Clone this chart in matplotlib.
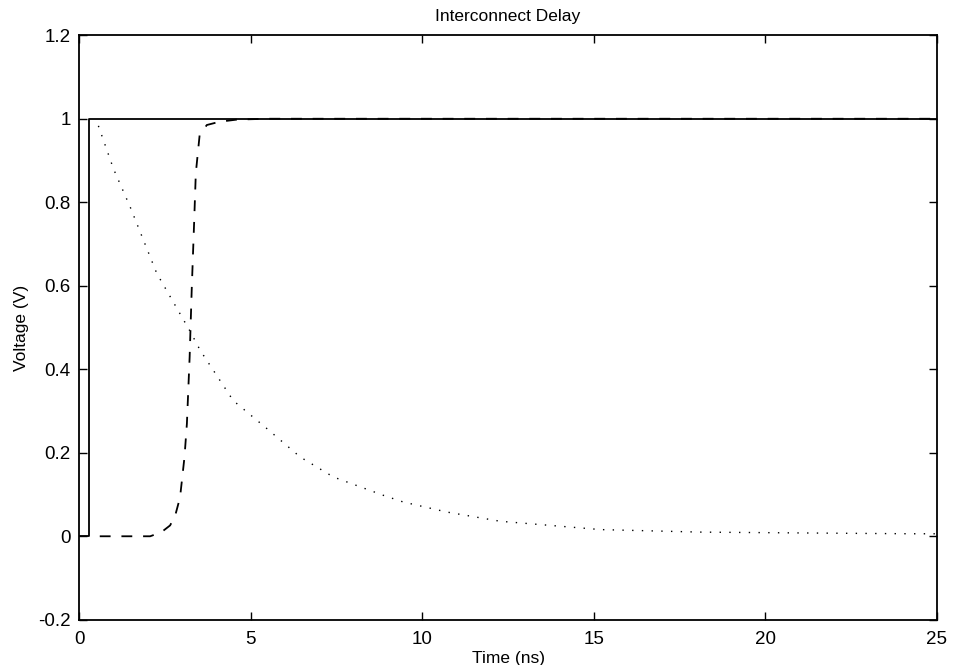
import matplotlib
matplotlib.use("Agg")
import matplotlib.pyplot as plt

plt.rcParams['font.family'] = ['Liberation Sans', 'DejaVu Sans']

# input step (solid)
t_step = [0.0, 0.3, 0.3, 25.0]
v_step = [0.0, 0.0, 1.0, 1.0]

# far end response (dashed)
t_far = [0.6, 1.5, 2.07, 2.4, 2.65, 2.8, 2.94, 3.07, 3.14, 3.22, 3.28,
         3.35, 3.40, 3.51, 3.72, 4.1, 4.6, 5.5, 25.0]
v_far = [0.0, 0.0, 0.0, 0.01, 0.026, 0.05, 0.093, 0.19, 0.27, 0.43, 0.59,
         0.75, 0.87, 0.96, 0.985, 0.993, 0.998, 1.0, 1.0]

# near end (dotted)
t_near = [0.56, 1.0, 1.49, 2.26, 3.24, 3.53, 4.49, 5.47, 6.44, 7.41, 8.87,
          9.45, 10.72, 12.27, 15.2, 18.1, 21.0, 24.2, 25.0]
v_near = [0.983, 0.88, 0.788, 0.63, 0.49, 0.445, 0.325, 0.258, 0.19, 0.142,
          0.098, 0.082, 0.058, 0.036, 0.016, 0.010, 0.008, 0.006, 0.006]

fig = plt.figure(figsize=(9.54, 6.65), dpi=100)
ax = fig.add_axes([0.083, 0.068, 0.899, 0.879])

ax.plot(t_step, v_step, color='black', linewidth=1.3, linestyle='-')
ax.plot(t_far, v_far, color='black', linewidth=1.3, linestyle=(0, (6, 6)))
ax.plot(t_near, v_near, color='black', linewidth=1.0, linestyle=(0, (1, 6)))

ax.set_xlim(0, 25)
ax.set_ylim(-0.2, 1.2)
ax.set_xticks([0, 5, 10, 15, 20, 25])
ax.set_yticks([-0.2, 0, 0.2, 0.4, 0.6, 0.8, 1, 1.2])
ax.set_yticklabels(['-0.2', '0', '0.2', '0.4', '0.6', '0.8', '1', '1.2'])
ax.tick_params(direction='in', top=True, right=True, length=6, width=1,
               labelsize=13.5)
ax.tick_params(axis='x', pad=8)
ax.tick_params(axis='y', pad=6)
for s in ax.spines.values():
    s.set_linewidth(1.3)

ax.set_xlabel('Time (ns)', fontsize=12.5, labelpad=2)
ax.set_ylabel('Voltage (V)', fontsize=12.5, labelpad=7)
ax.set_title('Interconnect Delay', fontsize=12.5, pad=10)

fig.savefig('out.png', dpi=100)
